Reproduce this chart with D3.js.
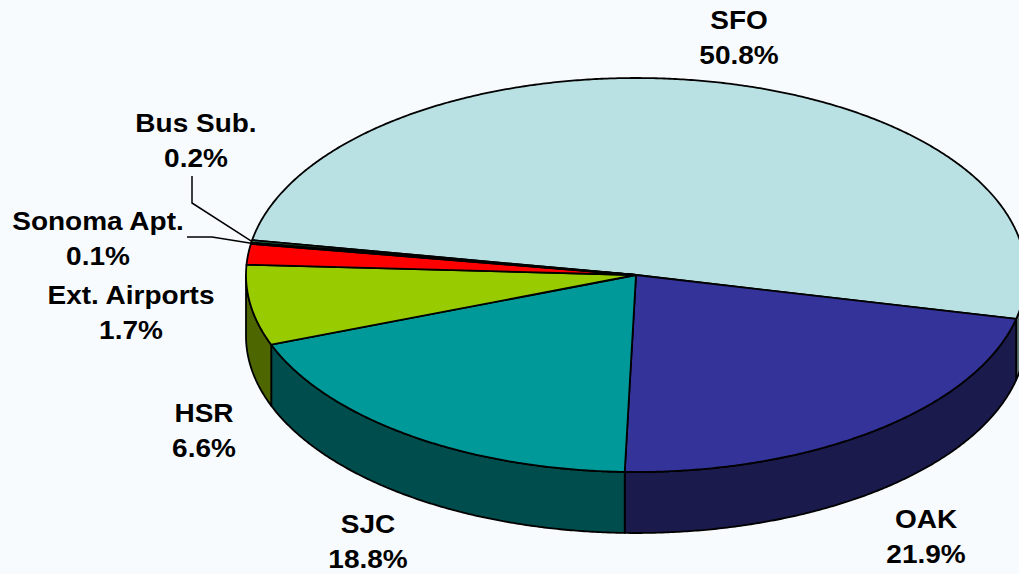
<!DOCTYPE html>
<html>
<head>
<meta charset="utf-8">
<script src="https://cdn.jsdelivr.net/npm/d3@7"></script>
<style>
  body { margin: 0; background: #f8fbfe; }
  svg { display: block; }
  .lbl { font-family: "Liberation Sans", Arial, sans-serif; font-weight: bold; font-size: 25px; fill: #000; }
</style>
</head>
<body>
<script>
// slices, clockwise starting at SFO
var names = ["SFO", "OAK", "SJC", "HSR", "Ext. Airports", "Sonoma Apt.", "Bus Sub."];
var shares = [50.8, 21.9, 18.8, 6.6, 1.7, 0.1, 0.2];
var colors = ["#b9e0e3", "#333399", "#009999", "#99cc00", "#ff0000", "#2f5f5f", "#339966"];

var width = 1019,
    height = 574;

// 3d ellipse geometry
var cx = 636, cy = 275, rx = 390, ry = 197, depth = 61;
var start = -79.8 * Math.PI / 180;

// label anchors (centre x, first baseline) and leader lines for the slivers
var labelPos = [[739, 29], [926, 528], [368, 533], [204, 422], [131, 304], [98, 230], [196, 132]];
var leaders = { 5: [[187, 237], [212, 237]], 6: [[192, 176], [192, 203]] };

var svg = d3.select("body").append("svg")
    .attr("width", width)
    .attr("height", height);

var pie = d3.pie().sort(null)
    .startAngle(start)
    .endAngle(start + 2 * Math.PI);

var arcs = pie(shares);

function pt(a, dy) {
    return [cx + rx * Math.sin(a), cy - ry * Math.cos(a) + (dy || 0)];
}

function arcPts(a0, a1, dy) {
    var n = Math.max(2, Math.ceil(Math.abs(a1 - a0) / (0.4 * Math.PI / 180)));
    return d3.range(n + 1).map(function(i) { return pt(a0 + (a1 - a0) * i / n, dy); });
}

// side walls are the top colour at half brightness
function shade(c) {
    var r = d3.rgb(c);
    return d3.rgb(r.r * 0.5, r.g * 0.5, r.b * 0.5).formatHex();
}

var line = d3.line();

// sides (front half only)
var sides = arcs.map(function(d, i) {
    var s = Math.max(d.startAngle, Math.PI / 2),
        e = Math.min(d.endAngle, 3 * Math.PI / 2);
    if (e <= s) return null;
    var pts = arcPts(s, e, 0).concat(arcPts(e, s, depth));
    return { i: i, d: line(pts) + "Z" };
}).filter(function(d) { return d; });

svg.append("g").selectAll("path")
    .data(sides)
    .enter().append("path")
    .attr("d", function(d) { return d.d; })
    .attr("fill", function(d) { return shade(colors[d.i]); })
    .attr("stroke", "#000")
    .attr("stroke-width", 1.8)
    .attr("stroke-linejoin", "round");

// top faces
svg.append("g").selectAll("path")
    .data(arcs)
    .enter().append("path")
    .attr("d", function(d) {
        return line([[cx, cy]].concat(arcPts(d.startAngle, d.endAngle, 0))) + "Z";
    })
    .attr("fill", function(d, i) { return colors[i]; })
    .attr("stroke", "#000")
    .attr("stroke-width", 1.8)
    .attr("stroke-linejoin", "round");

// leader lines
Object.keys(leaders).forEach(function(k) {
    var d = arcs[+k];
    var end = pt((d.startAngle + d.endAngle) / 2, 0);
    svg.append("path")
        .attr("d", line(leaders[k].concat([end])))
        .attr("fill", "none")
        .attr("stroke", "#000")
        .attr("stroke-width", 1.5);
});

// labels
var fmt = d3.format(".1f");
var lab = svg.append("g").selectAll("text")
    .data(names)
    .enter().append("text")
    .attr("class", "lbl")
    .attr("text-anchor", "middle")
    .attr("transform", function(d, i) {
        return "translate(" + labelPos[i][0] + "," + labelPos[i][1] + ") scale(1.12,1)";
    });

lab.append("tspan").attr("x", 0).attr("y", 0).text(function(d) { return d; });
lab.append("tspan").attr("x", 0).attr("y", 35.5).text(function(d, i) { return fmt(shares[i]) + "%"; });
</script>
</body>
</html>
